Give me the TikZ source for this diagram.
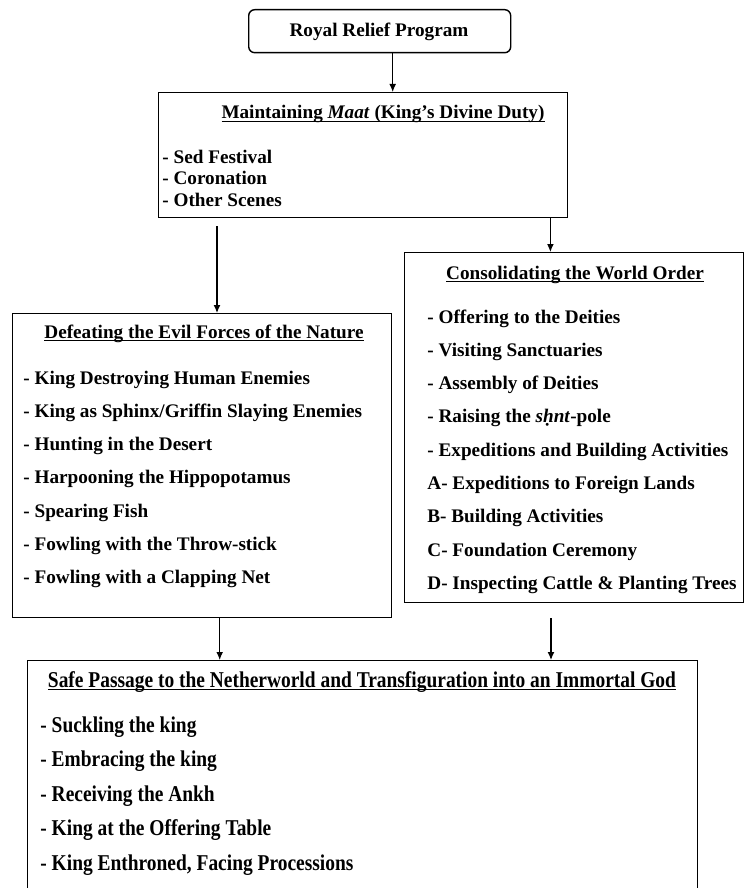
\documentclass[tikz,border=0pt]{standalone}
\usepackage{fontspec}
\setmainfont{Liberation Serif}
\newfontfamily\tallfont{Liberation Serif}[FakeStretch=0.86]
\newcommand{\ulbar}[1]{\setbox0\hbox{#1}\rlap{\rule[-1.6pt]{\wd0}{0.6pt}}\box0}
\usetikzlibrary{arrows.meta}

\begin{document}
\begin{tikzpicture}[x=0.5pt,y=-0.5pt,
  box/.style={draw,line width=0.7pt,inner sep=0pt,anchor=north west},
  head/.style={anchor=base,inner sep=0pt,font=\bfseries\fontsize{9.6}{11}\selectfont},
  entry/.style={anchor=base west,inner sep=0pt,font=\bfseries\fontsize{9.6}{11}\selectfont},
  tallhead/.style={head,font=\tallfont\bfseries\fontsize{11.3}{13}\selectfont},
  tallentry/.style={entry,font=\tallfont\bfseries\fontsize{11.3}{13}\selectfont},
  arr/.style={-{Latex[length=4pt,width=3.4pt]},line width=0.55pt}]
\useasboundingbox (0,0) rectangle (745,888);
\clip (0,0) rectangle (745,888);

% boxes
\node[box,rounded corners=3pt,minimum width=131pt,minimum height=21.5pt] (root) at (248,9) {};
\node[box,minimum width=204.5pt,minimum height=62.5pt] (maat) at (158,92) {};
\node[box,minimum width=189.5pt,minimum height=152pt] (evil) at (12,313) {};
\node[box,minimum width=169.5pt,minimum height=175pt] (order) at (404,252) {};
\node[box,minimum width=335pt,minimum height=140pt] (passage) at (27,660) {};

% titles
\node[head] (roottitle) at (379,37) {Royal Relief Program};
\node[head] (maattitle) at (383,119) {\ulbar{Maintaining \textit{Maat} (King’s Divine Duty)}};
\node[head] (eviltitle) at (204,338) {\ulbar{Defeating the Evil Forces of the Nature}};
\node[head] (ordertitle) at (575,279) {\ulbar{Consolidating the World Order}};
\node[tallhead] (passagetitle) at (362,687) {\ulbar{Safe Passage to the Netherworld and Transfiguration into an Immortal God}};

% lists
\foreach \txt [count=\i] in {- Sed Festival, - Coronation, - Other Scenes}
  \node[entry] (maat-\i) at (162,{163+21.5*(\i-1)}) {\txt};
\foreach \txt [count=\i] in {- King Destroying Human Enemies,
    - King as Sphinx/Griffin Slaying Enemies, - Hunting in the Desert,
    - Harpooning the Hippopotamus, - Spearing Fish,
    - Fowling with the Throw-stick, - Fowling with a Clapping Net}
  \node[entry] (evil-\i) at (23,{384+33.3*(\i-1)}) {\txt};
\foreach \txt [count=\i] in {- Offering to the Deities, - Visiting Sanctuaries,
    - Assembly of Deities, - Raising the \textit{sḥnt}-pole,
    - Expeditions and Building Activities, A- Expeditions to Foreign Lands,
    B- Building Activities, C- Foundation Ceremony,
    D- Inspecting Cattle \& Planting Trees}
  \node[entry] (order-\i) at (427,{323+33.3*(\i-1)}) {\txt};
\foreach \txt [count=\i] in {- Suckling the king, - Embracing the king,
    - Receiving the Ankh, - King at the Offering Table,
    {- King Enthroned, Facing Processions}}
  \node[tallentry] (passage-\i) at (40,{732+34.5*(\i-1)}) {\txt};

% arrows
\draw[arr] ([xshift=6.5pt]root.south) -- ([xshift=6.5pt]root.south |- maat.north);
\draw[arr] ([xshift=29.5pt,yshift=-4pt]maat.south west) -- ([xshift=29.5pt]maat.south west |- evil.north);
\draw[arr] ([xshift=-9pt]maat.south east) -- ([xshift=-9pt]maat.south east |- order.north);
\draw[arr] ([xshift=8.75pt]evil.south) -- ([xshift=8.75pt]evil.south |- passage.north);
\draw[arr] ([xshift=73.5pt]order.south west |- evil.south) -- ([xshift=73.5pt]order.south west |- passage.north);
\end{tikzpicture}
\end{document}
